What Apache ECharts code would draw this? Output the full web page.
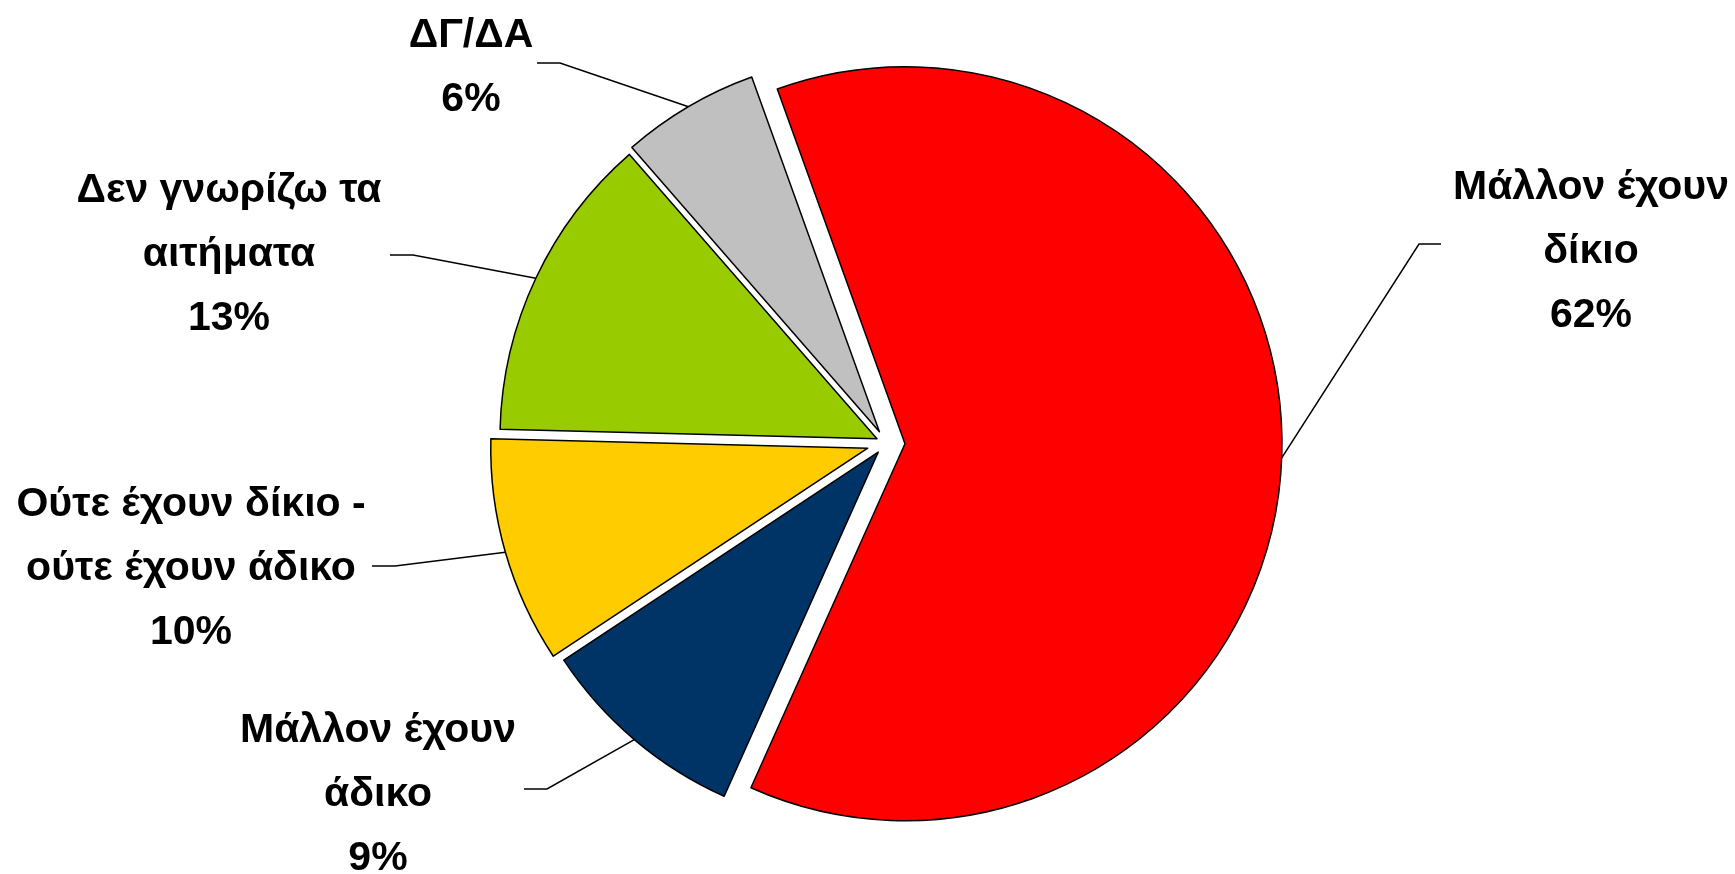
<!DOCTYPE html>
<html><head><meta charset="utf-8">
<script src="https://cdn.jsdelivr.net/npm/echarts@6/dist/echarts.min.js"></script>
<style>html,body{margin:0;padding:0;background:#fff}#c{width:1735px;height:874px}</style>
</head><body><div id="c"></div>
<script>
// ---- data ----
const categories = ['Μάλλον έχουν\nδίκιο', 'Μάλλον έχουν\nάδικο', 'Ούτε έχουν δίκιο -\nούτε έχουν άδικο', 'Δεν γνωρίζω τα\nαιτήματα', 'ΔΓ/ΔΑ'];
const values = [62.2, 9.0, 9.7, 13.2, 5.9];
const colors = ['#FF0000', '#003366', '#FFCC00', '#99CC00', '#C0C0C0'];

// ---- layout ----
const CX = 886, CY = 443, R = 377, START = 109.8;
const explode = [19, 12, 19, 10, 13];
// label block centre, label-line elbow and end (annotation layout)
const labelLayouts = [
  {x: 1591, y: 252, elbow: [1419, 244], end: [1441, 244]},
  {x: 378, y: 795, elbow: [547, 789], end: [524, 789]},
  {x: 191, y: 569, elbow: [395, 566], end: [372, 566]},
  {x: 229, y: 255, elbow: [413, 255], end: [390, 255]},
  {x: 471, y: 68, elbow: [560, 63], end: [537, 63]}
];

const FONT = 'Liberation Sans, Arial, sans-serif';
const total = values.reduce((a, b) => a + b, 0);
let cum = 0;
const series = values.map((v, i) => {
  const mid = START - 360 * (cum + v / 2) / total;
  cum += v;
  const rad = mid * Math.PI / 180;
  const cx = CX + explode[i] * Math.cos(rad);
  const cy = CY - explode[i] * Math.sin(rad);
  return {
    type: 'pie',
    center: [cx, cy],
    radius: R,
    startAngle: START,
    clockwise: true,
    avoidLabelOverlap: false,
    silent: true,
    animation: false,
    emphasis: {disabled: true},
    label: {show: false},
    labelLine: {show: false},
    data: values.map((vv, j) => {
      if (j !== i) {
        return {value: vv, name: categories[j], itemStyle: {color: 'rgba(0,0,0,0)', borderWidth: 0}};
      }
      return {
        value: vv,
        name: categories[j],
        itemStyle: {color: colors[j], borderColor: '#000', borderWidth: 1.5},
        label: {
          show: true,
          position: 'outside',
          fontFamily: FONT, fontWeight: 'bold', fontSize: 41, color: '#000',
          formatter: (p) => (p.name + '\n' + Math.round(p.percent) + '%').split('\n').map(s => '{c|' + s + '}').join('\n'),
          rich: {c: {align: 'center', fontFamily: FONT, fontWeight: 'bold', fontSize: 41, lineHeight: 64, color: '#000'}}
        },
        labelLine: {show: true, lineStyle: {color: '#000', width: 1.5}}
      };
    }),
    labelLayout: (p) => {
      if (p.dataIndex !== i) return {};
      const L = labelLayouts[i];
      const p0 = (p.labelLinePoints && p.labelLinePoints[0]) || L.elbow;
      return {
        x: L.x, y: L.y, align: 'center', verticalAlign: 'middle',
        labelLinePoints: [p0, L.elbow, L.end]
      };
    }
  };
});

const chart = echarts.init(document.getElementById('c'), null, {renderer: 'canvas'});
chart.setOption({backgroundColor: '#fff', animation: false, series: series});
</script>
</body></html>
